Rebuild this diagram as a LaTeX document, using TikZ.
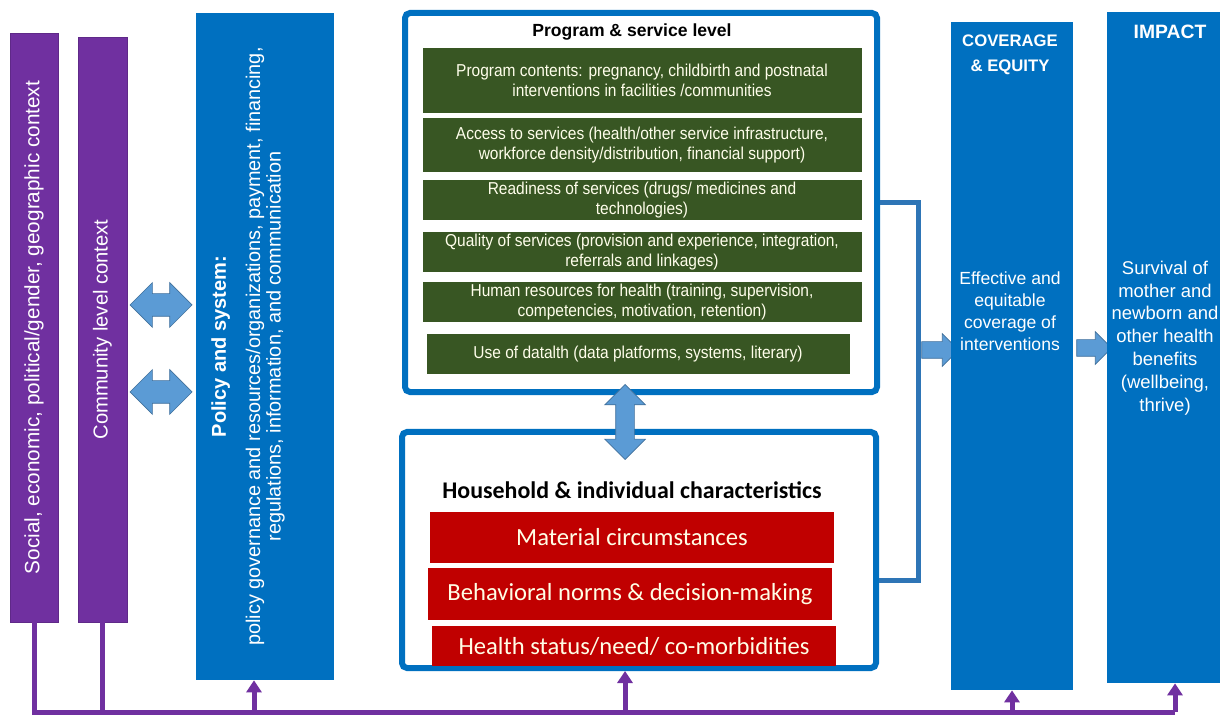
\documentclass[tikz,border=0pt]{standalone}
\usepackage{fontspec}
\setmainfont{Liberation Sans}
\newfontfamily\narrowsf[FakeStretch=0.9]{Liberation Sans}
\newfontfamily\calibsf{Carlito}
\usetikzlibrary{arrows.meta,shapes.arrows}

\definecolor{ctxpurple}{HTML}{7030A0}
\definecolor{sysblue}{HTML}{0070C0}
\definecolor{linkblue}{HTML}{2E75B6}
\definecolor{arrowblue}{HTML}{5B9BD5}
\definecolor{arrowedge}{HTML}{41719C}
\definecolor{progreen}{HTML}{385623}
\definecolor{hhred}{HTML}{C00000}

\begin{document}
\begin{tikzpicture}[x=0.2mm,y=-0.2mm,
  ctxbar/.style={fill=ctxpurple,draw=ctxpurple!85!black,rotate=90,text=white,inner sep=0},
  bluecol/.style={fill=sysblue,text=white,inner sep=0},
  frame/.style={draw=sysblue,line width=1.2mm,rounded corners=1mm,fill=white,inner sep=0},
  greenbox/.style={fill=progreen,text=white!92!yellow,minimum width=87.8mm,inner sep=0,align=center,
    font=\narrowsf\fontsize{9.8}{11.3}\selectfont},
  redbox/.style={fill=hhred,text=white!90!yellow,minimum width=80.8mm,inner sep=0,
    font=\calibsf\fontsize{14}{16}\selectfont},
  dbl/.style={double arrow,fill=arrowblue,draw=arrowedge,line width=0.4pt,inner xsep=0,
    double arrow head extend=2.2mm,double arrow tip angle=90},
  sgl/.style={single arrow,fill=arrowblue,draw=arrowedge,line width=0.4pt,inner xsep=0,inner ysep=1.6mm,
    single arrow head extend=1.6mm,single arrow tip angle=90},
  busline/.style={draw=ctxpurple,line width=1mm},
  bracketline/.style={draw=linkblue,line width=1mm}]

  \useasboundingbox[fill=white] (0,0) rectangle (1220,716);

  % context bars
  \node[ctxbar,minimum width=117.8mm,minimum height=9.6mm,font=\fontsize{11.8}{14}\selectfont] (social) at (34,327.5)
    {Social, economic, political/gender, geographic context};
  \node[ctxbar,minimum width=117mm,minimum height=9.8mm,font=\fontsize{11.5}{14}\selectfont] (community) at (102.5,329.5)
    {Community level context};

  % policy and system
  \node[bluecol,minimum width=27.6mm,minimum height=133.4mm] (policy) at (265,346.5) {};
  \node[rotate=90,text=white,align=center,font=\fontsize{11.3}{10.4}\selectfont] (policytext)
    at ([xshift=-3.4mm]policy.center)
    {\textbf{\fontsize{11.4}{12}\selectfont Policy and system:}\\[8pt]
     policy governance and resources/organizations, payment, financing,\\
     regulations, information, and communication};

  \node[dbl,inner ysep=2.2mm,minimum height=12.4mm] (link1) at (161,305) {};
  \node[dbl,inner ysep=2.2mm,minimum height=12.4mm] (link2) at (161,392) {};

  % program & service level
  \node[frame,minimum width=94.4mm,minimum height=75.8mm] (program) at (641,202.5) {};
  \node[font=\bfseries\fontsize{10}{12}\selectfont] (progtitle) at (632,32) {Program \& service level};
  \node[greenbox,minimum height=13mm] (g1) at (642,80.5)
    {Program contents:  pregnancy, childbirth and postnatal\\interventions in facilities /communities};
  \node[greenbox,minimum height=10.8mm] (g2) at (642,145)
    {Access to services (health/other service infrastructure,\\workforce density/distribution, financial support)};
  \node[greenbox,minimum height=8mm] (g3) at (642,200)
    {Readiness of services (drugs/ medicines and\\technologies)};
  \node[greenbox,minimum height=8mm] (g4) at (642,252)
    {Quality of services (provision and experience, integration,\\referrals and linkages)};
  \node[greenbox,minimum height=8mm] (g5) at (642,302)
    {Human resources for health (training, supervision,\\competencies, motivation, retention)};
  \node[greenbox,minimum width=84.6mm,minimum height=8mm] (g6) at (638,354)
    {Use of datalth  (data platforms, systems, literary)};

  % household & individual characteristics
  \node[frame,minimum width=94.8mm,minimum height=47.2mm] (household) at (639,550) {};
  \node[font=\calibsf\bfseries\fontsize{13.6}{16}\selectfont] (hhtitle) at (632,490)
    {Household \& individual characteristics};
  \node[redbox,minimum height=10.2mm] (r1) at (632,537.5) {Material circumstances};
  \node[redbox,minimum height=10.4mm] (r2) at (630,594) {Behavioral norms \& decision-making};
  \node[redbox,minimum height=8mm] (r3) at (634,646) {Health status/need/ co-morbidities};

  \node[dbl,rotate=90,inner ysep=1.8mm,minimum height=15mm] (link3) at (625,422) {};

  % bracket to coverage
  \coordinate (brk) at (918,350);
  \coordinate (hhlow) at ([yshift=-6mm]household.east);
  \draw[bracketline] (program.east) -| (brk) |- (hhlow);
  \node[sgl,minimum height=7.4mm] (toCov) at (936,350) {};

  % coverage and impact
  \node[bluecol,minimum width=24.4mm,minimum height=133.6mm] (coverage) at (1012,356) {};
  \node[text=white,align=center,font=\bfseries\fontsize{9.5}{14.5}\selectfont] (covtitle) at (1010,55)
    {COVERAGE\\\& EQUITY};
  \node[text=white,align=center,font=\fontsize{10}{12.5}\selectfont] (covtext) at (1010,311)
    {Effective and\\equitable\\coverage of\\interventions};
  \node[sgl,minimum height=7mm] (toImp) at (1090,348) {};
  \node[bluecol,minimum width=23mm,minimum height=134.2mm] (impact) at (1164,347.5) {};
  \node[text=white,font=\bfseries\fontsize{11}{13}\selectfont] (imptitle) at (1170,32) {IMPACT};
  \node[text=white,align=center,font=\fontsize{10.5}{13}\selectfont] (imptext) at (1165,338)
    {Survival of\\mother and\\newborn and\\other health\\benefits\\(wellbeing,\\thrive)};

  % bottom line
  \coordinate (bus) at (0,712);
  \coordinate (busend) at (1175,712);
  \coordinate (tapP) at (254,712);
  \coordinate (tapH) at (625,712);
  \draw[busline] (social.west) -- (social.west |- bus) -- (busend);
  \draw[busline] (community.west) -- (community.west |- bus);
  \draw[busline,-{Triangle[width=3mm,length=2.4mm]}] (tapP) -- (tapP |- policy.south);
  \draw[busline,-{Triangle[width=3mm,length=2.4mm]}] (tapH) -- (tapH |- household.south);
  \draw[busline,-{Triangle[width=3mm,length=2.4mm]}] (coverage.south |- bus) -- (coverage.south);
  \draw[busline,-{Triangle[width=3mm,length=2.4mm]}] (busend) -- (busend |- impact.south);

\end{tikzpicture}
\end{document}
